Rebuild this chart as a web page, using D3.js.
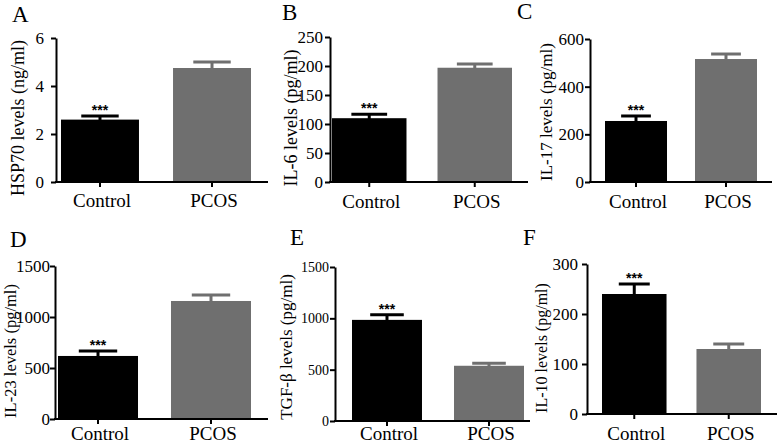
<!DOCTYPE html>
<html>
<head>
<meta charset="utf-8">
<script src="https://cdn.jsdelivr.net/npm/d3@7"></script>
<style>
  html, body { margin: 0; padding: 0; background: #fff; }
  svg { display: block; }
  text { font-family: "Liberation Serif", "Times New Roman", serif; fill: #000; }
</style>
</head>
<body>
<svg id="chart" width="777" height="445"></svg>
<script>
// ---- data ----
const categories = ["Control", "PCOS"];
const panelLetters = ["A", "B", "C", "D", "E", "F"];
const yTitles = ["HSP70 levels (ng/ml)", "IL-6 levels (pg/ml)", "IL-17 levels (pg/ml)",
                 "IL-23 levels (pg/ml)", "TGF-β levels (pg/ml)", "IL-10 levels (pg/ml)"];
const meansA = [2.6, 4.75];   const errA = [0.15, 0.25];
const meansB = [110, 197];    const errB = [7, 6.5];
const meansC = [256, 516];    const errC = [21, 21];
const meansD = [618, 1157];   const errD = [49, 59];
const meansE = [985, 538];    const errE = [50, 24];
const meansF = [240, 130];    const errF = [20, 10];
const yMaxes = [6, 250, 600, 1500, 1500, 300];
const yTicksA = [0, 2, 4, 6];
const yTicksB = [0, 50, 100, 150, 200, 250];
const yTicksC = [0, 200, 400, 600];
const yTicksD = [0, 500, 1000, 1500];
const yTicksE = [0, 500, 1000, 1500];
const yTicksF = [0, 100, 200, 300];
const significance = ["***", ""];   // vs PCOS, per category

const means = [meansA, meansB, meansC, meansD, meansE, meansF];
const errs = [errA, errB, errC, errD, errE, errF];
const yTicks = [yTicksA, yTicksB, yTicksC, yTicksD, yTicksE, yTicksF];

// ---- layout (positions / sizes) ----
const layout = [
  {ax: 56,  yT: 38,  yB: 182, xEnd: 268, bars: [61, 251],  pi: 0.304, lx: 12,  ly: 22,  tx: 24,  ty: 118, tfs: 18,   kfs: 17, pad: 7, cy: 207},
  {ax: 330, yT: 37,  yB: 182, xEnd: 528, bars: [332, 512], pi: 0.294, lx: 282, ly: 20,  tx: 297, ty: 118, tfs: 18,   kfs: 17, pad: 2, cy: 208},
  {ax: 590, yT: 39,  yB: 182, xEnd: 772, bars: [605, 757], pi: 0.311, lx: 517, ly: 19,  tx: 552, ty: 112, tfs: 17,   kfs: 17, pad: 1, cy: 208},
  {ax: 55,  yT: 266, yB: 419, xEnd: 268, bars: [58, 251],  pi: 0.292, lx: 10,  ly: 247, tx: 16,  ty: 351, tfs: 16.5, kfs: 17, pad: 0, cy: 440},
  {ax: 335, yT: 267, yB: 421, xEnd: 530, bars: [352, 524], pi: 0.314, lx: 290, ly: 245, tx: 292, ty: 347, tfs: 17,   kfs: 14, pad: 1, cy: 440},
  {ax: 587, yT: 264, yB: 414, xEnd: 777, bars: [602, 761], pi: 0.317, lx: 523, ly: 245, tx: 547, ty: 348, tfs: 16,   kfs: 17, pad: 4, cy: 440}
];
const colors = ["#000000", "#6f6f6f"];

const svg = d3.select("#chart");

layout.forEach((L, i) => {
  const g = svg.append("g");
  const y = d3.scaleLinear().domain([0, yMaxes[i]]).range([L.yB, L.yT]);
  const x = d3.scaleBand().domain(categories).range(L.bars).paddingInner(L.pi).paddingOuter(0);
  const bw = x.bandwidth();
  const capW = bw * 0.48;

  // bars
  g.selectAll("rect.bar").data(categories).join("rect")
    .attr("x", d => x(d))
    .attr("y", (d, j) => y(means[i][j]))
    .attr("width", bw)
    .attr("height", (d, j) => y(0) - y(means[i][j]))
    .attr("fill", (d, j) => colors[j]);

  // error bars (upper half)
  categories.forEach((c, j) => {
    const cx = x(c) + bw / 2;
    const top = y(means[i][j] + errs[i][j]);
    g.append("line").attr("x1", cx).attr("x2", cx)
      .attr("y1", y(means[i][j]) + 1).attr("y2", top)
      .attr("stroke", colors[j]).attr("stroke-width", 3);
    g.append("line").attr("x1", cx - capW / 2).attr("x2", cx + capW / 2)
      .attr("y1", top).attr("y2", top)
      .attr("stroke", colors[j]).attr("stroke-width", 3);
    if (significance[j]) {
      g.append("text").attr("x", cx).attr("y", top - 1)
        .attr("text-anchor", "middle")
        .style("font-family", "'Liberation Sans', Arial, sans-serif")
        .style("font-weight", "bold").style("font-size", "14px")
        .text(significance[j]);
    }
  });

  // y axis
  const yAxis = g.append("g").attr("transform", `translate(${L.ax},0)`)
    .call(d3.axisLeft(y).tickValues(yTicks[i]).tickFormat(d3.format("d"))
      .tickSize(5).tickSizeOuter(0).tickPadding(L.pad));
  yAxis.select(".domain").attr("stroke", "#000").attr("stroke-width", 2);
  yAxis.selectAll(".tick line").attr("stroke", "#000").attr("stroke-width", 2);
  yAxis.selectAll(".tick text")
    .style("font-family", "'Liberation Serif', 'Times New Roman', serif")
    .style("font-size", L.kfs + "px").attr("fill", "#000");

  // x axis
  const xAxis = g.append("g").attr("transform", `translate(0,${L.yB})`)
    .call(d3.axisBottom(x).tickSize(5).tickSizeOuter(0).tickFormat(""));
  xAxis.select(".domain").remove();
  xAxis.selectAll(".tick line").attr("stroke", "#000").attr("stroke-width", 2);
  g.append("line").attr("x1", L.ax - 1).attr("x2", L.xEnd)
    .attr("y1", L.yB).attr("y2", L.yB)
    .attr("stroke", "#000").attr("stroke-width", 2);

  // category labels
  g.selectAll("text.cat").data(categories).join("text")
    .attr("class", "cat")
    .attr("x", d => x(d) + bw / 2 + 2)
    .attr("y", L.cy)
    .attr("text-anchor", "middle")
    .style("font-size", "19px")
    .text(d => d);

  // y title
  g.append("text")
    .attr("transform", `translate(${L.tx},${L.ty}) rotate(-90)`)
    .attr("text-anchor", "middle")
    .style("font-size", L.tfs + "px")
    .text(yTitles[i]);

  // panel letter
  g.append("text").attr("x", L.lx).attr("y", L.ly)
    .style("font-size", "23px")
    .text(panelLetters[i]);
});
</script>
</body>
</html>
